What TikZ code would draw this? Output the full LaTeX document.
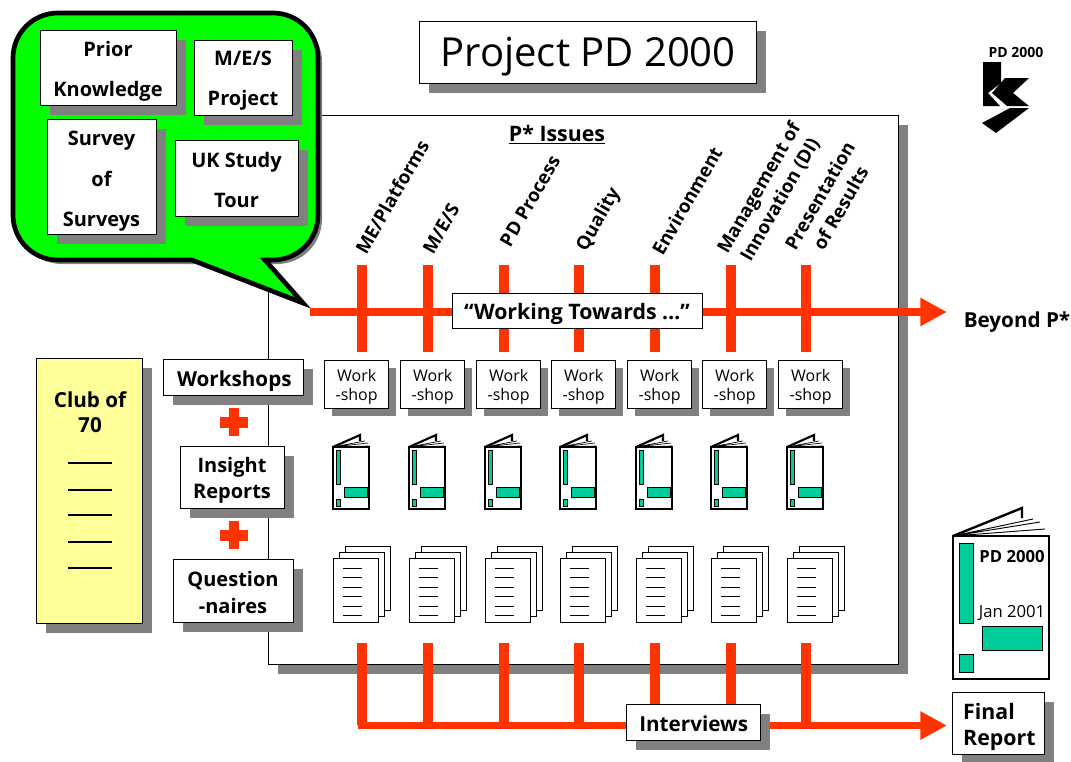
\documentclass[tikz,border=0pt]{standalone}
\usepackage{fontspec}
\setmainfont{Open Sans}
\usetikzlibrary{arrows.meta}
\definecolor{shad}{HTML}{808080}
\definecolor{redl}{HTML}{FF3300}
\definecolor{teal1}{HTML}{00CC99}
\definecolor{yell}{HTML}{FFFF99}
\definecolor{grn}{HTML}{00FF00}
\newcommand{\fs}[1]{\fontsize{#1}{#1}\selectfont}
\tikzset{
 x=0.75pt,y=-0.75pt,
 boxbase/.style={draw=black,line width=0.75pt,fill=white,inner sep=0pt},
 boxtext/.style={inner sep=0pt,align=center,text=black},
 bt/.style={font=\bfseries\fs{15}},
 rlabel/.style={font=\bfseries\fs{14},align=center,inner sep=0pt,rotate=60},
 redline/.style={draw=redl,line width=7.5pt},
 redarrow/.style={draw=redl,line width=5.5pt,-{Triangle[length=20pt,width=20pt]}},
 bookline/.style={draw=black,line width=1.6pt,fill=white,line join=miter},
 tealbar/.style={draw=black,line width=0.7pt,fill=teal1},
 pageline/.style={draw=black,line width=0.7pt,fill=white},
}
% name x0 y0 x1 y1 shadow fill text-options text
\newcommand{\pbox}[9]{%
 \ifnum#6>0 \fill[shad] ({#2+#6},{#3+#6}) rectangle ({#4+#6},{#5+#6});\fi
 \pgfmathsetmacro\pw{(#4-#2)*0.75}\pgfmathsetmacro\ph{(#5-#3)*0.75}
 \node[boxbase,fill=#7,minimum width=\pw pt,minimum height=\ph pt] (#1) at ({(#2+#4)/2},{(#3+#5)/2}) {};
 \node[boxtext,#8] (#1t) at (#1.center) {#9};}
\newcommand{\callout}{(192,260) -- (58,260) .. controls (33,260) and (13,240) .. (13,215) -- (13,58) .. controls (13,33) and (33,13) .. (58,13) -- (273,13) .. controls (298,13) and (318,33) .. (318,58) -- (318,215) .. controls (318,240) and (298,260) .. (273,260) -- (265,260) -- (303,303) -- cycle}
\begin{document}
\begin{tikzpicture}
\useasboundingbox (0,0) rectangle (1071,761);
\fill[white] (0,0) rectangle (1071,761);
% panel
\pbox{panel}{268}{115}{898}{664}{10}{white}{}{}
% title
\pbox{title}{419}{21}{756}{83}{10}{white}{font=\fs{30},yshift=-3.5pt,xshift=0.5pt}{Project PD 2000}
% logo
\node[font=\bfseries\fs{10.5},inner sep=0pt] (logotxt) at (1016,52) {PD 2000};
\fill (983,62) -- (1001,62) -- (1001,83) -- (988,93) -- (1000,106) -- (983,106) -- cycle;
\fill (1005,78) -- (1029,78) -- (1013,93) -- (1029,106) -- (1007,106) -- (992,93) -- cycle;
\fill (1010,108) -- (1029,108) -- (996,133) -- (982,123) -- cycle;
% callout
\fill[shad,shift={(4,4)}] \callout;
\draw[fill=grn,line width=3.5pt,line join=miter] \callout;
\pbox{prior}{40}{30}{176}{105}{10}{white}{bt,yshift=-2.5pt}{Prior\\[15pt]Knowledge}
\pbox{mes}{194}{40}{292}{115}{10}{white}{bt,yshift=-2.5pt}{M/E/S\\[15pt]Project}
\pbox{survey}{47}{119}{156}{234}{10}{white}{bt,yshift=-3.5pt}{Survey\\[15pt]of\\[15pt]Surveys}
\pbox{uk}{175}{140}{298}{216}{10}{white}{bt,yshift=-1.5pt}{UK Study\\[15pt]Tour}
% issues
\node[font=\bfseries\fs{16},inner sep=0pt] (pissues) at (557,135) {\underline{P* Issues}};
\node[rlabel] (i1) at (392,197) {ME/Platforms};
\node[rlabel] (i2) at (441,229) {M/E/S};
\node[rlabel] (i3) at (530,201) {PD Process};
\node[rlabel] (i4) at (599,220) {Quality};
\node[rlabel] (i5) at (687,201) {Environment};
\node[rlabel] (i6) at (770,194) {Management of\\[4pt]Innovation (DI)};
\node[rlabel] (i7) at (830,202) {Presentation\\[4pt]of Results};
% red top
\coordinate (hs) at (310,312);
\coordinate (he) at (947,312);
\coordinate (bs) at (358,725.5);
\foreach \n/\x in {1/362,2/428,3/504,4/579,5/655,6/731,7/806}{
 \coordinate (t\n) at (\x,265);
 \coordinate (u\n) at (\x,352);
 \coordinate (v\n) at (\x,643);
 \coordinate (w\n) at (\x,725);
 \draw[redline] (t\n) -- (u\n);
 \draw[redline] (v\n) -- (w\n);
}
\draw[redarrow] (hs) -- (he);
\node[font=\bfseries\fs{15.5},inner sep=0pt] (beyond) at (1017,322) {Beyond P*};
\pbox{working}{452}{293}{702}{328}{0}{white}{font=\bfseries\fs{16},yshift=-2.5pt}{“Working Towards …”}
% columns
\foreach \n/\x in {1/324,2/400,3/476,4/551,5/627,6/702,7/778}{
 \pbox{ws\n}{\x}{360}{\x+64}{408}{8}{white}{font=\fs{12},yshift=-2pt,xshift=0.5pt}{Work\\[2pt]-shop}
 \begin{scope}[shift={({\x+9},0)}]
  \draw[draw=black,line width=1.6pt] (0,447) -- (27,435) -- (27,441);
  \draw[line width=0.5pt] (0,447) -- (32,441) (0,447) -- (35,443) (0,447) -- (36,446);
  \draw[bookline] (0,447) rectangle (36,509);
  \draw[tealbar] (3,450) rectangle (7,484);
  \draw[tealbar] (11,487) rectangle (34,497);
  \draw[tealbar] (3,499) rectangle (7,506);
  \draw[pageline] (12,546) rectangle (57,610);
  \draw[pageline] (6,552) rectangle (51,616);
  \draw[pageline] (0,558) rectangle (45,622);
  \foreach \yy in {568,577,587,596,606,615}{\draw[line width=0.7pt] (10,\yy) -- (29,\yy);}
 \end{scope}
}
% left column
\pbox{club}{36}{358}{142}{623}{10}{yell}{}{}
\node[font=\bfseries\fs{15.5},align=center,inner sep=0pt] (clubt) at (90,412) {Club of\\[3pt]70};
\foreach \yy in {463,490,515,542,568}{\draw[line width=0.9pt] (68,\yy) -- (112,\yy);}
\pbox{wsl}{163}{359}{303}{395}{10}{white}{font=\bfseries\fs{15.5},yshift=-3pt,xshift=1pt}{Workshops}
\pbox{ins}{180}{446}{284}{508}{10}{white}{font=\bfseries\fs{15},yshift=-2.5pt}{Insight\\[5pt]Reports}
\pbox{que}{173}{559}{293}{622}{10}{white}{font=\bfseries\fs{15},yshift=-1.5pt}{Question\\[5pt]-naires}
\foreach \yy in {422,535}{
 \fill[redl] (220,{\yy-5.5}) rectangle (248,{\yy+5.5});
 \fill[redl] (229,{\yy-14}) rectangle (239,{\yy+14});
}
% bottom
\coordinate (fe) at (947,725.5);
\draw[redarrow] (bs) -- (fe);
\pbox{inter}{626}{704}{760}{740}{10}{white}{font=\bfseries\fs{15.5},yshift=-1pt,xshift=0.5pt}{Interviews}
\pbox{final}{952}{692}{1044}{754}{10}{white}{font=\bfseries\fs{16},align=left,xshift=1pt,yshift=-3pt}{Final\\[4pt]Report}
% large book
\draw[line width=1.8pt] (953,536) -- (1022,508) -- (1022,518);
\draw[line width=0.7pt] (953,536) -- (1033,519) (953,536) -- (1040,522) (953,536) -- (1045,529);
\draw[line width=2pt,fill=white] (953,536) rectangle (1049,679);
\draw[tealbar] (959,543) rectangle (973,623);
\draw[tealbar] (982,626) rectangle (1042,650);
\draw[tealbar] (959,654) rectangle (973,672);
\node[font=\bfseries\fs{12.5},inner sep=0pt] (bookt) at (1012,557) {PD 2000};
\node[font=\fs{12.5},inner sep=0pt] (bookd) at (1012,613) {Jan 2001};
\end{tikzpicture}
\end{document}
